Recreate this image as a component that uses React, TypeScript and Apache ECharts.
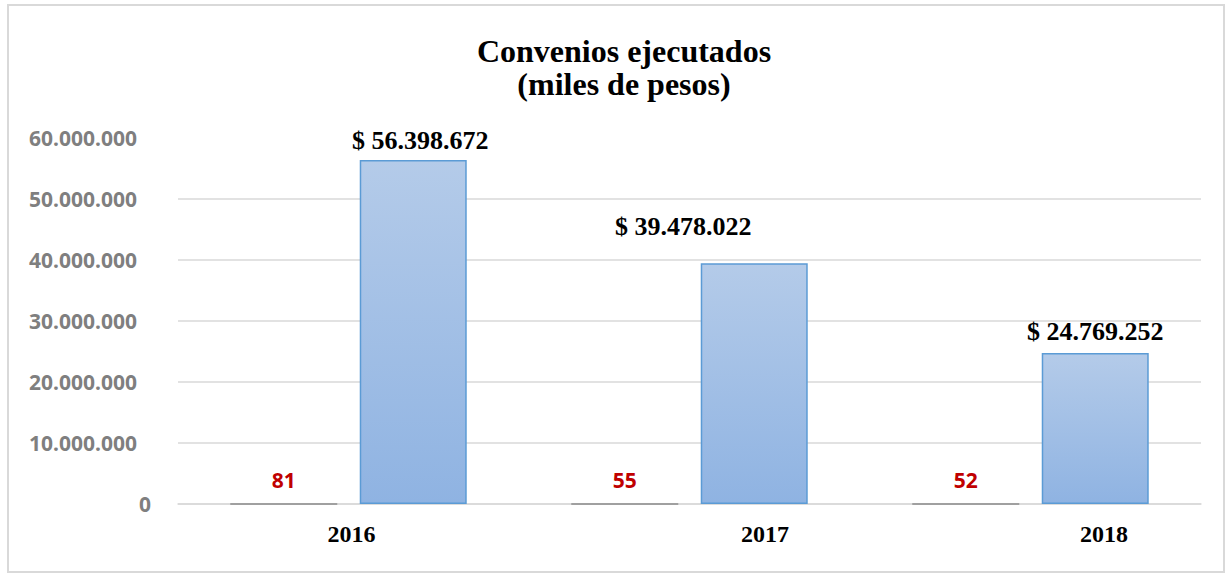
import React, { useEffect, useRef } from 'react';
import * as echarts from 'echarts';

const years: string[] = ['2016', '2017', '2018'];
const convenios: number[] = [81, 55, 52];
const montos: number[] = [56398672, 39478022, 24769252];
const yMin = 0;
const yMax = 60000000;
const yStep = 10000000;
const titleLines: string[] = ['Convenios ejecutados', '(miles de pesos)'];

const fmt = (v: number) => String(Math.round(v)).replace(/\B(?=(\d{3})+(?!\d))/g, '.');

// label placement tweaks (style, not data)
const montoLabelOffsets: number[][] = [[7, 0], [-71, -18], [0, -2]];
const yearLabelShift: number[] = [6, 151, 147];

const SANS = '"Noto Sans", "Liberation Sans", sans-serif';
const SERIF = '"Liberation Serif", "Times New Roman", serif';

export default function App() {
  const ref = useRef<HTMLDivElement>(null);
  useEffect(() => {
    if (!ref.current) return;
    const chart = echarts.init(ref.current, null, { renderer: 'svg' });
    const rich: any = {};
    yearLabelShift.forEach((s, i) => {
      rich['c' + i] = {
        fontFamily: SERIF,
        fontSize: 24,
        fontWeight: 'bold',
        color: '#000000',
        padding: [0, 0, 0, s],
      };
    });
    chart.setOption({
      animation: false,
      backgroundColor: '#ffffff',
      title: {
        text: titleLines.join('\n'),
        left: 619,
        top: 29,
        textAlign: 'center',
        textStyle: {
          fontFamily: SERIF,
          fontSize: 32,
          fontWeight: 'bold',
          color: '#000000',
          lineHeight: 33,
        },
      },
      graphic: [
        {
          type: 'rect',
          shape: { x: 8, y: 5, width: 1216, height: 567 },
          style: { fill: 'none', stroke: '#d9d9d9', lineWidth: 2 },
          silent: true,
        },
      ],
      grid: { left: 178, right: 24, top: 138, bottom: 69, containLabel: false },
      xAxis: {
        type: 'category',
        data: years,
        axisTick: { show: false },
        axisLine: { show: true, lineStyle: { color: '#d9d9d9', width: 1.5 } },
        axisLabel: {
          margin: 18,
          formatter: (v: string, i: number) => `{c${i}|${v}}`,
          rich,
        },
      },
      yAxis: {
        type: 'value',
        min: yMin,
        max: yMax,
        interval: yStep,
        axisLine: { show: false },
        axisTick: { show: false },
        splitLine: { show: true, showMaxLine: false, lineStyle: { color: '#d9d9d9', width: 1.5 } },
        axisLabel: {
          margin: 27,
          formatter: (v: number) => (v === 0 ? '{z|0}' : `{n|${fmt(v)}}`),
          rich: {
            z: { fontFamily: SANS, fontSize: 21, fontWeight: 'bold', color: '#7f7f7f' },
            n: { fontFamily: SANS, fontSize: 21, fontWeight: 'bold', color: '#7f7f7f', padding: [0, 14, 0, 0] },
          },
        },
      },
      series: [
        {
          type: 'bar',
          name: 'Convenios',
          data: convenios,
          barWidth: 107,
          barGap: '21%',
          itemStyle: { color: '#a5a5a5', borderColor: '#a0a0a0', borderWidth: 2 },
          label: {
            show: true,
            position: 'top',
            distance: 12,
            fontFamily: SANS,
            fontSize: 21,
            fontWeight: 'bold',
            color: '#c00000',
          },
        },
        {
          type: 'bar',
          name: 'Monto',
          data: montos.map((v, i) => ({
            value: v,
            label: { offset: montoLabelOffsets[i] },
          })),
          barWidth: 107,
          itemStyle: {
            color: new echarts.graphic.LinearGradient(0, 0, 0, 1, [
              { offset: 0, color: '#b4cbe9' },
              { offset: 1, color: '#8fb3e2' },
            ]),
            borderColor: '#5b9bd5',
            borderWidth: 1.5,
          },
          label: {
            show: true,
            position: 'top',
            distance: 6,
            fontFamily: SERIF,
            fontSize: 26,
            fontWeight: 'bold',
            color: '#000000',
            formatter: (p: any) => '$ ' + fmt(p.value),
          },
        },
      ],
    });
    return () => chart.dispose();
  }, []);
  return (
    <div
      ref={ref}
      style={{ position: 'fixed', left: 0, top: 0, width: 1225, height: 573 }}
    />
  );
}
